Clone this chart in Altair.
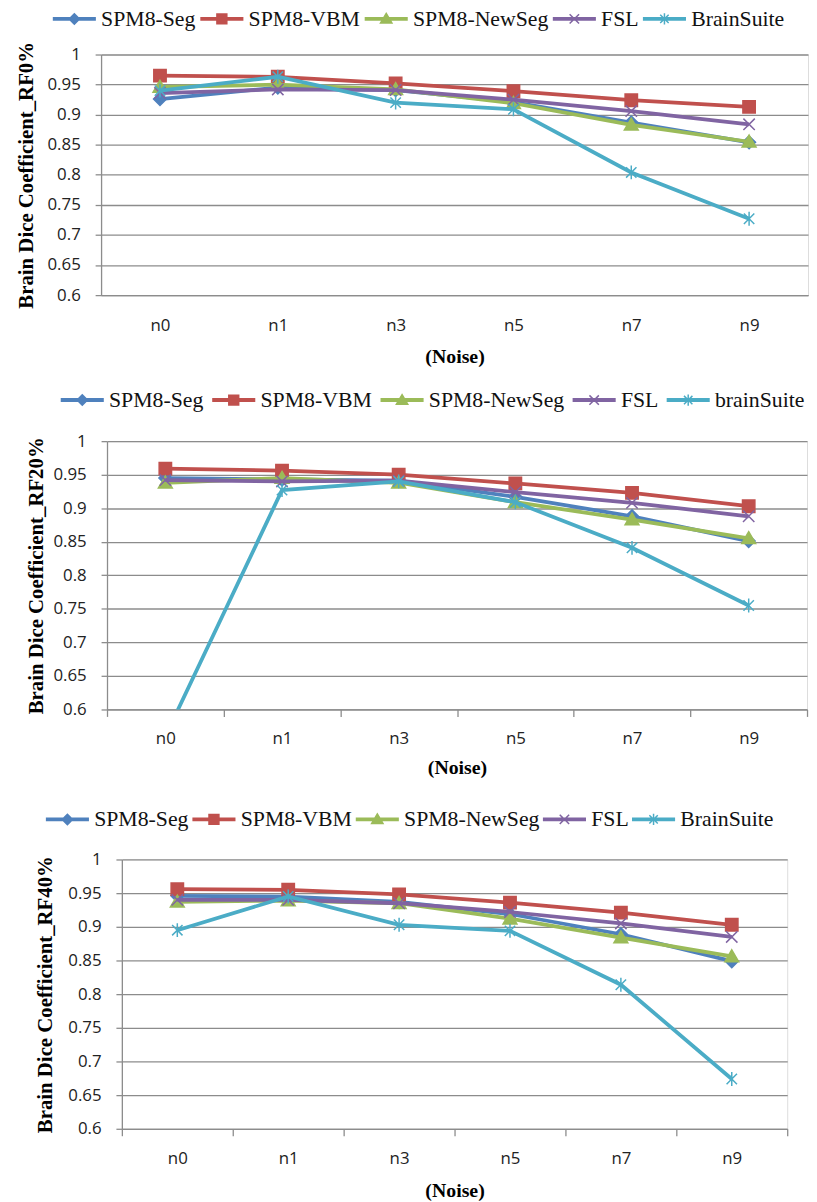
import altair as alt
import pandas as pd

# ---------------- data ----------------
noise = ["n0", "n1", "n3", "n5", "n7", "n9"]

series_rf0 = ["SPM8-Seg", "SPM8-VBM", "SPM8-NewSeg", "FSL", "BrainSuite"]
series_rf20 = ["SPM8-Seg", "SPM8-VBM", "SPM8-NewSeg", "FSL", "brainSuite"]
series_rf40 = ["SPM8-Seg", "SPM8-VBM", "SPM8-NewSeg", "FSL", "BrainSuite"]

rf0_seg = [0.926, 0.945, 0.941, 0.921, 0.887, 0.854]
rf0_vbm = [0.965, 0.963, 0.952, 0.939, 0.924, 0.913]
rf0_newseg = [0.946, 0.950, 0.942, 0.919, 0.883, 0.855]
rf0_fsl = [0.936, 0.942, 0.941, 0.925, 0.906, 0.884]
rf0_brainsuite = [0.940, 0.963, 0.920, 0.909, 0.804, 0.727]

rf20_seg = [0.945, 0.943, 0.941, 0.917, 0.888, 0.851]
rf20_vbm = [0.959, 0.956, 0.950, 0.937, 0.923, 0.903]
rf20_newseg = [0.938, 0.945, 0.938, 0.909, 0.883, 0.855]
rf20_fsl = [0.942, 0.940, 0.941, 0.924, 0.908, 0.888]
rf20_brainsuite = [0.56, 0.927, 0.940, 0.909, 0.841, 0.755]

rf40_seg = [0.946, 0.945, 0.937, 0.919, 0.889, 0.849]
rf40_vbm = [0.956, 0.955, 0.948, 0.936, 0.921, 0.903]
rf40_newseg = [0.937, 0.939, 0.935, 0.912, 0.884, 0.856]
rf40_fsl = [0.940, 0.940, 0.935, 0.922, 0.905, 0.885]
rf40_brainsuite = [0.895, 0.945, 0.903, 0.894, 0.814, 0.674]

y_ticks = [0.6, 0.65, 0.7, 0.75, 0.8, 0.85, 0.9, 0.95, 1.0]

# ---------------- styles ----------------
colors = ["#4F81BD", "#C0504D", "#9BBB59", "#8064A2", "#4BACC6"]
GRID = "#8c8c8c"
SERIF = "Liberation Serif"
SANS = "Open Sans"

marker_paths = [
    "M0,-1.3L1.3,0L0,1.3L-1.3,0Z",
    "M-1.25,-1.25L1.25,-1.25L1.25,1.25L-1.25,1.25Z",
    "M0,-1.35L1.4,1.05L-1.4,1.05Z",
    "M-1.15,-1.15L1.15,1.15M-1.15,1.15L1.15,-1.15",
    "M0,-1.4L0,1.4M-1.05,-1.05L1.05,1.05M-1.05,1.05L1.05,-1.05",
]
LINE = "M-4.2,-0.25L4.2,-0.25L4.2,0.25L-4.2,0.25Z"
legend_paths = [
    LINE + "M0,-1.05L1.05,0L0,1.05L-1.05,0Z",
    LINE + "M-1,-1L1,-1L1,1L-1,1Z",
    LINE + "M0,-1.1L1.15,0.85L-1.15,0.85Z",
    LINE + "M-0.95,-0.95L0.95,0.95M-0.95,0.95L0.95,-0.95",
    LINE + "M0,-1.15L0,1.15M-0.85,-0.85L0.85,0.85M-0.85,0.85L0.85,-0.85",
]


def panel(series, values, ytitle, width, height, leg_x, leg_y, col_pad,
          x_ticks, title_pad, x_label_pad, x_title_pad):
    rows = []
    for s, vals in zip(series, values):
        for n, v in zip(noise, vals):
            rows.append({"noise": n, "value": v, "series": s})
    df = pd.DataFrame(rows)
    base = alt.Chart(df)

    x = alt.X(
        "noise:N",
        sort=noise,
        bandPosition=0.5,
        scale=alt.Scale(type="band", paddingInner=0, paddingOuter=0),
        title="(Noise)",
        axis=alt.Axis(
            labelAngle=0, grid=False,
            domainColor=GRID, domainWidth=1.3,
            ticks=x_ticks, tickBand="extent", tickSize=7 if x_ticks else 0,
            tickColor=GRID, tickWidth=1.3,
            labelFont=SANS, labelFontSize=17, labelColor="#222222",
            labelPadding=x_label_pad,
            titleFont=SERIF, titleFontSize=20, titleFontWeight="bold",
            titleColor="#000000", titlePadding=x_title_pad,
        ),
    )
    y = alt.Y(
        "value:Q",
        scale=alt.Scale(domain=[0.6, 1.0], nice=False, zero=False),
        title=ytitle,
        axis=alt.Axis(
            values=y_ticks, format=".2~f",
            grid=True, gridColor=GRID, gridWidth=1.3,
            domainColor=GRID, domainWidth=1.3,
            tickColor=GRID, tickWidth=1.3, tickSize=6,
            labelFont=SANS, labelFontSize=17, labelColor="#222222",
            labelPadding=15,
            titleFont=SERIF, titleFontSize=21, titleFontWeight="bold",
            titleColor="#000000", titlePadding=title_pad,
        ),
    )

    layers = []
    for i, s in enumerate(series):
        sub = base.transform_filter(alt.datum.series == s)
        layers.append(
            sub.mark_line(color=colors[i], strokeWidth=3.8, clip=True)
            .encode(x=x, y=y)
        )
        layers.append(
            sub.mark_point(shape=marker_paths[i], size=100, filled=True,
                           fill=colors[i], stroke=colors[i], strokeWidth=1.5,
                           opacity=1, clip=True)
            .encode(x=x, y=y)
        )

    leg = alt.Legend(
        title=None, orient="none", legendX=leg_x, legendY=leg_y,
        direction="horizontal", columns=5, columnPadding=col_pad,
        padding=0, symbolSize=100, symbolStrokeWidth=1.5,
        symbolOffset=6, labelOffset=16, symbolOpacity=1,
        labelFont=SERIF, labelFontSize=22, labelColor="#111111",
        labelLimit=0,
    )
    legend_layer = base.transform_filter("false").mark_point(filled=True).encode(
        x=x, y=y,
        fill=alt.Fill("series:N", scale=alt.Scale(domain=series, range=colors), legend=leg),
        stroke=alt.Stroke("series:N", scale=alt.Scale(domain=series, range=colors), legend=leg),
        shape=alt.Shape("series:N", scale=alt.Scale(domain=series, range=legend_paths), legend=leg),
    )
    layers.append(legend_layer)
    return alt.layer(*layers).properties(width=width, height=height)


def spacer(w):
    return alt.Chart(pd.DataFrame({"s": [0]})).mark_point(opacity=0).properties(width=w, height=1)


IND = dict(fill="independent", stroke="independent", shape="independent",
           x="independent", y="independent")
LIND = dict(fill="independent", stroke="independent", shape="independent")


def row(w, p):
    return alt.hconcat(spacer(w), p, spacing=0).resolve_scale(**IND).resolve_legend(**LIND)


p1 = panel(series_rf0, [rf0_seg, rf0_vbm, rf0_newseg, rf0_fsl, rf0_brainsuite],
           "Brain Dice Coefficient_RF0%", 714, 243, -44, -47, 2, False, 11, 23, 13)
p2 = panel(series_rf20, [rf20_seg, rf20_vbm, rf20_newseg, rf20_fsl, rf20_brainsuite],
           "Brain Dice Coefficient_RF20%", 707, 271, -42, -52.5, 6, True, 7, 14, 11.5)
p3 = panel(series_rf40, [rf40_seg, rf40_vbm, rf40_newseg, rf40_fsl, rf40_brainsuite],
           "Brain Dice Coefficient_RF40%", 672, 272, -72, -51.5, 1, True, 12, 15, 14)

lower = alt.vconcat(row(12.5, p2), row(22.5, p3), spacing=30.5).resolve_scale(**IND).resolve_legend(**LIND)
chart = (
    alt.vconcat(row(0.5, p1), lower, spacing=21.5)
    .resolve_scale(**IND)
    .resolve_legend(**LIND)
    .properties(padding={"left": 0, "top": -7, "right": 0, "bottom": 0})
    .configure_view(stroke=None)
    .configure(background="white")
)

chart.save("out.html", embed_options={"renderer": "svg", "actions": False})
